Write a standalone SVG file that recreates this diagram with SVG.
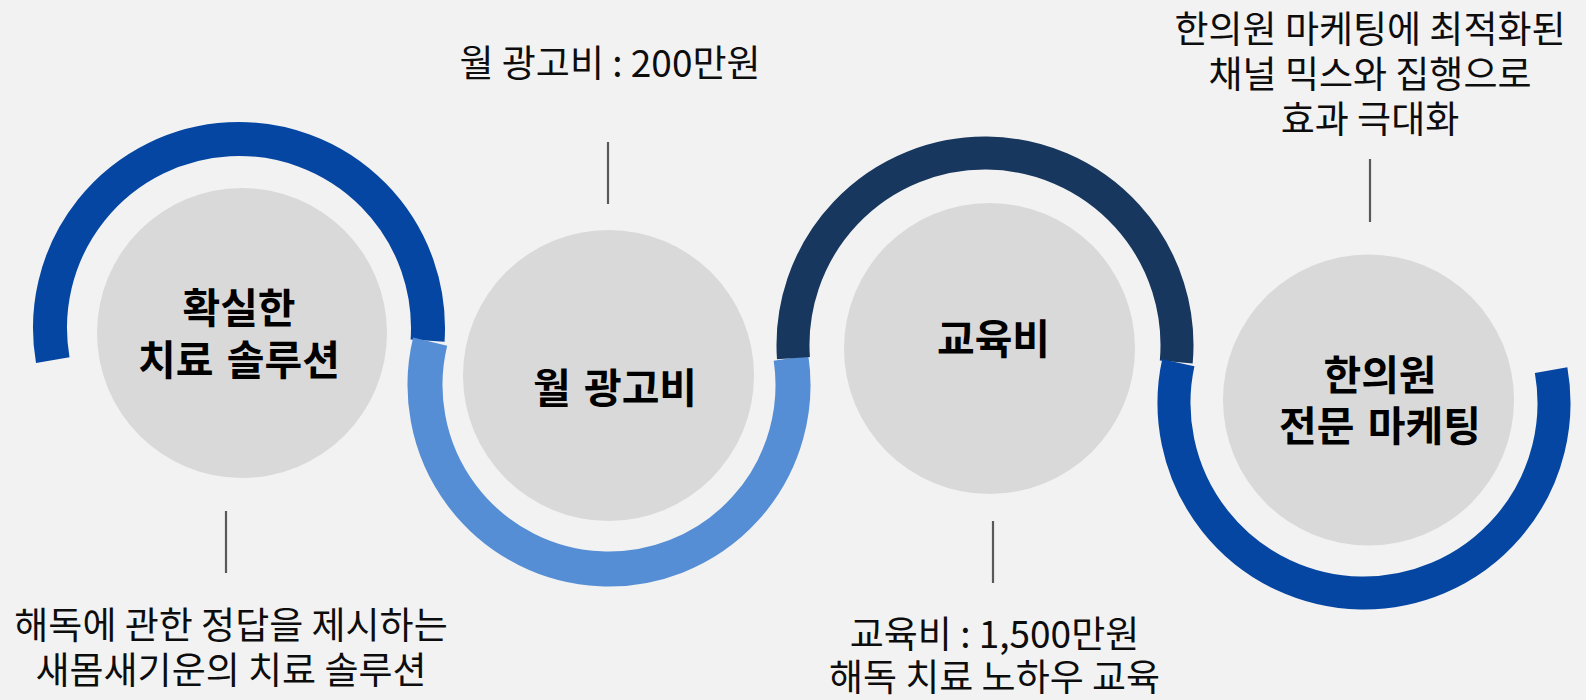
<svg xmlns="http://www.w3.org/2000/svg" width="1586" height="700" viewBox="0 0 1586 700">
<style>
.bg{fill:#F2F2F2}
.disc{fill:#D9D9D9}
.ring{fill:none;stroke-linecap:butt}
.r1{stroke:#0546A2;stroke-width:34}
.r2{stroke:#558ED5;stroke-width:35}
.r3{stroke:#17375E;stroke-width:33}
.r4{stroke:#0546A2;stroke-width:33}
.lead{stroke:#595959;stroke-width:2.2}
.title{font-family:"Noto Sans CJK KR","Noto Sans",sans-serif;font-weight:bold;font-size:41px;fill:#000;text-anchor:middle;word-spacing:4px}
.label{font-family:"Noto Sans CJK KR","Noto Sans",sans-serif;font-size:37px;fill:#0D0D0D;text-anchor:middle}
</style>
<rect class="bg" x="0" y="0" width="1586" height="700"/>
<g id="connectors">
<path class="ring r1" d="M52.76,360.17 A189,189 0 1 1 427.58,340.53"/>
<path class="ring r2" d="M430.16,341.73 A184,184 0 1 0 791.03,358.12"/>
<path class="ring r3" d="M793.44,358.06 A192,192 0 1 1 1176.24,362.07"/>
<path class="ring r4" d="M1178.29,362.85 A190,190 0 1 0 1551.11,370.01"/>
<line class="lead" x1="226" y1="511" x2="226" y2="573"/>
<line class="lead" x1="608" y1="142" x2="608" y2="204"/>
<line class="lead" x1="993" y1="521" x2="993" y2="583"/>
<line class="lead" x1="1370" y1="159" x2="1370" y2="222"/>
</g>
<g id="node1">
<circle class="disc" cx="242" cy="333" r="145"/>
<text class="title"><tspan x="239" y="323">확실한</tspan><tspan x="239" y="375">치료 솔루션</tspan></text>
<text class="label"><tspan x="231" y="639">해독에 관한 정답을 제시하는</tspan><tspan x="231" y="684">새몸새기운의 치료 솔루션</tspan></text>
</g>
<g id="node2">
<circle class="disc" cx="608.5" cy="375.5" r="145.5"/>
<text class="title" x="615" y="403">월 광고비</text>
<text class="label" x="610" y="77">월 광고비 : 200만원</text>
</g>
<g id="node3">
<circle class="disc" cx="989.5" cy="348.5" r="145.5"/>
<text class="title" x="993.5" y="354">교육비</text>
<text class="label"><tspan x="994.5" y="648">교육비 : 1,500만원</tspan><tspan x="994.5" y="691">해독 치료 노하우 교육</tspan></text>
</g>
<g id="node4">
<circle class="disc" cx="1368.5" cy="400" r="145.5"/>
<text class="title"><tspan x="1380" y="390">한의원</tspan><tspan x="1380" y="441">전문 마케팅</tspan></text>
<text class="label"><tspan x="1370" y="43">한의원 마케팅에 최적화된</tspan><tspan x="1370" y="88">채널 믹스와 집행으로</tspan><tspan x="1370" y="133">효과 극대화</tspan></text>
</g>
</svg>
